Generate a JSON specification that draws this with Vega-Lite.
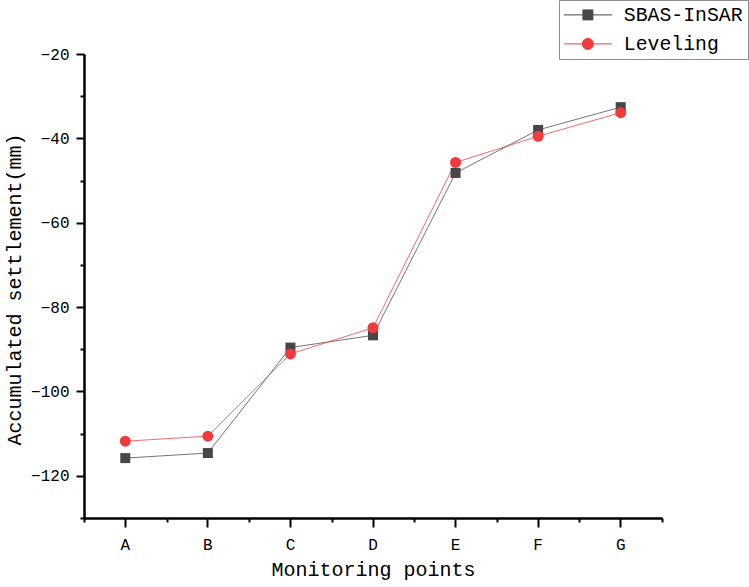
{
  "$schema": "https://vega.github.io/schema/vega-lite/v6.json",
  "width": 578,
  "height": 464,
  "autosize": "none",
  "padding": {"left": 84, "top": 54, "right": 87, "bottom": 69},
  "background": "white",
  "config": {
    "view": {"stroke": null},
    "font": "Liberation Mono",
    "axis": {"grid": false, "labelFont": "Liberation Mono", "titleFont": "Liberation Mono", "labelColor": "black", "titleColor": "black", "domainColor": "black", "tickColor": "black", "domainWidth": 2, "tickWidth": 2, "titleFontWeight": "normal"},
    "legend": {
      "title": null, "orient": "none", "legendX": 475, "legendY": -54, "padding": 5,
      "strokeColor": "#8c8c8c", "labelFont": "Liberation Mono", "labelFontSize": 19.8, "labelColor": "black",
      "labelOffset": 26, "symbolOffset": 14, "symbolSize": 144, "rowPadding": 8, "labelBaseline": "middle",
      "symbolOpacity": 1, "symbolStrokeWidth": 1
    }
  },
  "data": {
    "values": [
      {"point": "A", "series": "SBAS-InSAR", "value": -115.8},
      {"point": "B", "series": "SBAS-InSAR", "value": -114.6},
      {"point": "C", "series": "SBAS-InSAR", "value": -89.6},
      {"point": "D", "series": "SBAS-InSAR", "value": -86.7},
      {"point": "E", "series": "SBAS-InSAR", "value": -48.2},
      {"point": "F", "series": "SBAS-InSAR", "value": -38.0},
      {"point": "G", "series": "SBAS-InSAR", "value": -32.6},
      {"point": "A", "series": "Leveling", "value": -111.8},
      {"point": "B", "series": "Leveling", "value": -110.6},
      {"point": "C", "series": "Leveling", "value": -91.1},
      {"point": "D", "series": "Leveling", "value": -84.9},
      {"point": "E", "series": "Leveling", "value": -45.7},
      {"point": "F", "series": "Leveling", "value": -39.5},
      {"point": "G", "series": "Leveling", "value": -33.9}
    ]
  },
  "layer": [
    {
      "transform": [{"filter": "false"}],
      "mark": {"type": "point", "filled": true, "opacity": 1, "strokeWidth": 1},
      "encoding": {
        "color": {"field": "series", "type": "nominal", "scale": {"domain": ["SBAS-InSAR", "Leveling"], "range": ["#474747", "#ef3b3b"]}},
        "stroke": {"field": "series", "type": "nominal", "scale": {"domain": ["SBAS-InSAR", "Leveling"], "range": ["#6a6a6a", "#f05a5a"]}},
        "shape": {"field": "series", "type": "nominal", "scale": {"domain": ["SBAS-InSAR", "Leveling"], "range": ["M-4,0H4M-0.83,-0.83H0.83V0.83H-0.83Z", "M-4,0H4M0.92,0A0.92,0.92,0,1,1,-0.92,0A0.92,0.92,0,1,1,0.92,0Z"]}}
      }
    },
    {
      "mark": {"type": "line", "strokeWidth": 1, "opacity": 0.75},
      "encoding": {
        "x": {"field": "point", "type": "nominal", "sort": ["A","B","C","D","E","F","G"],
          "scale": {"type": "band", "paddingInner": 0, "paddingOuter": 0},
          "axis": {"orient": "bottom", "title": "Monitoring points", "titleFontSize": 20, "titleX": 289, "titleY": 57, "titleBaseline": "alphabetic", "titleAnchor": "middle", "labelFontSize": 16, "labelAngle": 0, "labelBaseline": "alphabetic", "tickSize": 9, "labelPadding": 22}},
        "y": {"field": "value", "type": "quantitative",
          "scale": {"domain": [-130, -20], "nice": false, "zero": false},
          "axis": {"orient": "left", "title": "Accumulated settlement(mm)", "titleFontSize": 20, "titleX": -70, "titleY": 235, "titleAngle": -90, "titleAlign": "center", "titleBaseline": "middle", "values": [-120, -100, -80, -60, -40, -20], "labelFontSize": 16, "tickSize": 8, "labelPadding": 7}},
        "color": {"field": "series", "type": "nominal"},
        "detail": {"field": "series"}
      }
    },
    {
      "transform": [{"filter": "datum.series === 'SBAS-InSAR'"}],
      "mark": {"type": "point", "filled": true, "opacity": 1, "shape": "square", "size": 100},
      "encoding": {
        "x": {"field": "point", "type": "nominal", "sort": ["A","B","C","D","E","F","G"],
          "axis": {"orient": "bottom", "title": null, "labels": false, "tickBand": "extent", "tickSize": 4}},
        "y": {"field": "value", "type": "quantitative",
          "axis": {"orient": "left", "title": null, "labels": false, "values": [-130, -110, -90, -70, -50, -30], "tickSize": 4}},
        "color": {"field": "series", "type": "nominal"}
      }
    },
    {
      "transform": [{"filter": "datum.series === 'Leveling'"}],
      "mark": {"type": "point", "filled": true, "opacity": 1, "shape": "circle", "size": 121},
      "encoding": {
        "x": {"field": "point", "type": "nominal", "sort": ["A","B","C","D","E","F","G"], "axis": null},
        "y": {"field": "value", "type": "quantitative", "axis": null},
        "color": {"field": "series", "type": "nominal"}
      }
    }
  ],
  "resolve": {"axis": {"x": "independent", "y": "independent"}}
}
